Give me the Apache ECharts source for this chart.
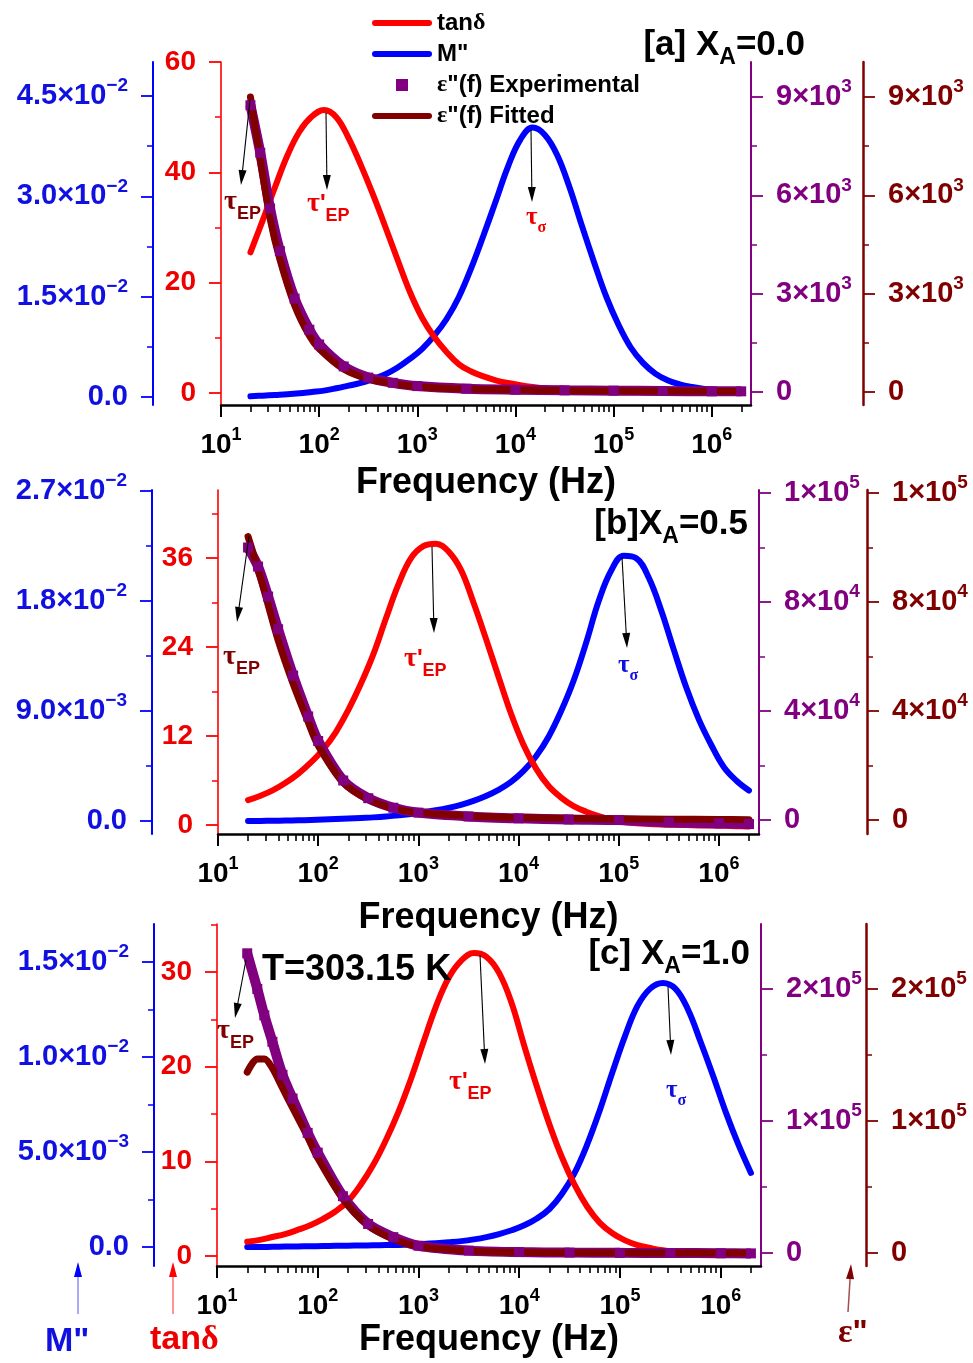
<!DOCTYPE html>
<html>
<head>
<meta charset="utf-8">
<title>tan delta, M'' and epsilon'' vs frequency</title>
<script src="https://cdn.jsdelivr.net/npm/echarts@6.0.0/dist/echarts.min.js"></script>
<style>
html,body{margin:0;padding:0;background:#ffffff;}
#chart{width:973px;height:1363px;}
</style>
</head>
<body>
<div id="chart"></div>
<script>
// ---------------- DATA (x = log10 of frequency in Hz) ----------------
// common frequency grid (log10 f) for tanδ and M'' curves: 20 Hz ... 2 MHz
const logF = [1.300, 1.425, 1.550, 1.675, 1.800, 1.925, 2.050, 2.175, 2.300, 2.425, 2.550, 2.675, 2.800, 2.925,
              3.050, 3.175, 3.300, 3.425, 3.550, 3.675, 3.800, 3.925, 4.050, 4.175, 4.300, 4.425, 4.550, 4.675,
              4.800, 4.925, 5.050, 5.175, 5.300, 5.425, 5.550, 5.675, 5.800, 5.925, 6.050, 6.175, 6.300];

// Panel [a] XA = 0.0
const tanA = [25.5, 31.3, 37.3, 43.0, 47.4, 50.1, 51.3, 50.0, 46.2, 41.3, 35.9, 30.1, 24.1, 18.3,
              13.6, 10.1, 7.4, 5.2, 3.9, 3.0, 2.3, 1.8, 1.4, 1.08, 0.83, 0.64, 0.49, 0.38,
              0.29, 0.22, 0.17, 0.13, 0.10, 0.08, 0.06, 0.05, 0.04, 0.03, 0.03, 0.02, 0.02];
const mA   = [0.0001, 0.0002, 0.0003, 0.0004, 0.00055, 0.00075, 0.00095, 0.0013, 0.0017, 0.0021, 0.0027, 0.0034, 0.0044, 0.0057,
              0.0072, 0.0092, 0.0117, 0.0150, 0.0193, 0.0242, 0.0293, 0.0345, 0.0385, 0.0403, 0.0392, 0.0362, 0.0314, 0.0257,
              0.0202, 0.0150, 0.0108, 0.0074, 0.0051, 0.0035, 0.0025, 0.0019, 0.0015, 0.0012, 0.0010, 0.0008, 0.0007];
const fA_eps  = [1.30, 1.40, 1.50, 1.60, 1.75, 1.90, 2.00, 2.25, 2.50, 2.75, 3.00, 3.50, 4.00, 4.50, 5.00, 5.50, 6.00, 6.30];
const epsExpA = [8750, 7300, 5600, 4300, 2850, 1900, 1450, 780, 440, 280, 180, 100, 70, 50, 40, 30, 20, 20];
const epsFitA = [9000, 7100, 5300, 4050, 2650, 1720, 1320, 700, 400, 260, 160, 90, 60, 45, 35, 30, 20, 20];

// Panel [b] XA = 0.5
const tanB = [3.35, 3.95, 4.7, 5.7, 6.9, 8.4, 10.2, 12.5, 15.5, 19.0, 23.0, 27.8, 32.4, 35.95,
              37.6, 37.93, 36.9, 34.4, 30.0, 25.1, 20.0, 15.0, 10.8, 7.6, 5.25, 3.7, 2.55, 1.8,
              1.2, 0.75, 0.42, 0.25, 0.15, 0.08, 0.03, -0.01, -0.05, -0.08, -0.11, -0.15, -0.2];
const mB   = [0.0, 0.00001, 0.00002, 0.00004, 0.00006, 0.00009, 0.00012, 0.00016, 0.00020, 0.00025, 0.00030, 0.00037, 0.00047, 0.00058,
              0.00072, 0.00088, 0.00108, 0.00133, 0.00165, 0.00205, 0.00255, 0.0032, 0.0041, 0.0053, 0.0069, 0.0090, 0.0115, 0.0146,
              0.0180, 0.0205, 0.0217, 0.0215, 0.0199, 0.0172, 0.0140, 0.0109, 0.0083, 0.0062, 0.0044, 0.0033, 0.0025];
const fB_eps  = [1.30, 1.40, 1.50, 1.60, 1.75, 1.90, 2.00, 2.25, 2.50, 2.75, 3.00, 3.50, 4.00, 4.50, 5.00, 5.50, 6.00, 6.30];
const epsExpB = [100000, 93000, 82000, 70000, 53000, 38000, 29000, 14500, 8000, 4500, 2700, 1300, 600, 200, 0, -800, -1200, -1500];
const epsFitB = [104000, 92000, 79000, 66000, 50000, 36000, 27300, 13700, 7500, 4300, 2700, 1500, 900, 600, 400, 300, 200, 100];

// Panel [c] XA = 1.0
const tanC = [1.5, 1.7, 2.0, 2.3, 2.75, 3.25, 3.9, 4.7, 5.8, 7.5, 9.6, 12.2, 15.2, 18.7,
              22.6, 26.4, 29.4, 31.2, 32.0, 31.6, 29.9, 26.7, 22.2, 17.9, 13.9, 10.4, 7.5, 5.2,
              3.5, 2.4, 1.65, 1.15, 0.85, 0.6, 0.45, 0.35, 0.28, 0.22, 0.18, 0.16, 0.15];
const mC   = [0.0, 0.0, 0.00001, 0.00002, 0.00003, 0.00004, 0.00005, 0.00006, 0.00007, 0.00008, 0.00009, 0.00010, 0.00011, 0.00013,
              0.00016, 0.00020, 0.00025, 0.00031, 0.00040, 0.00052, 0.00068, 0.00088, 0.00114, 0.0015, 0.0020, 0.0028, 0.0039, 0.0054,
              0.0072, 0.0092, 0.0111, 0.0127, 0.0136, 0.0139, 0.0136, 0.0125, 0.0108, 0.0090, 0.0071, 0.0054, 0.0039];
const fC_eps  = [1.30, 1.40, 1.47, 1.55, 1.65, 1.75, 1.90, 2.00, 2.25, 2.50, 2.75, 3.00, 3.50, 4.00, 4.50, 5.00, 5.50, 6.00, 6.30];
const epsExpC = [227000, 200000, 180000, 160000, 135000, 117000, 91000, 76000, 43000, 22000, 12000, 5500, 1800, 700, 300, 100, 0, -200, -300];
const epsFitC = [137000, 147000, 147000, 140000, 125000, 110000, 88000, 72000, 41000, 21000, 10500, 5000, 1500, 500, 200, 100, 0, 0, 0];

// ---------------- TICKS & TICK LABELS ----------------
const xTickExp = [1, 2, 3, 4, 5, 6];
const redTicksA = [0, 20, 40, 60];            const redLabelsA = ['0', '20', '40', '60'];        const redMinorA = [10, 30, 50];
const redTicksB = [0, 12, 24, 36];            const redLabelsB = ['0', '12', '24', '36'];        const redMinorB = [6, 18, 30, 42];
const redTicksC = [0, 10, 20, 30];            const redLabelsC = ['0', '10', '20', '30'];        const redMinorC = [5, 15, 25, 35];
const blueTicksA = [0, 0.015, 0.03, 0.045];   const blueLabelsA = ['0.0', '1.5×10^-2', '3.0×10^-2', '4.5×10^-2']; const blueMinorA = [0.0075, 0.0225, 0.0375];
const blueTicksB = [0, 0.009, 0.018, 0.027];  const blueLabelsB = ['0.0', '9.0×10^-3', '1.8×10^-2', '2.7×10^-2']; const blueMinorB = [0.0045, 0.0135, 0.0225];
const blueTicksC = [0, 0.005, 0.01, 0.015];   const blueLabelsC = ['0.0', '5.0×10^-3', '1.0×10^-2', '1.5×10^-2']; const blueMinorC = [0.0025, 0.0075, 0.0125];
const epsTicksA = [0, 3000, 6000, 9000];      const epsLabelsA = ['0', '3×10^3', '6×10^3', '9×10^3'];   const epsMinorA = [1500, 4500, 7500];
const epsTicksB = [0, 40000, 80000, 120000];  const epsLabelsB = ['0', '4×10^4', '8×10^4', '1×10^5'];   const epsMinorB = [20000, 60000, 100000];
const epsTicksC = [0, 100000, 200000];        const epsLabelsC = ['0', '1×10^5', '2×10^5'];            const epsMinorC = [50000, 150000, 250000];

// ---------------- STYLE ----------------
const SANS = '"Liberation Sans", Arial, Helvetica, sans-serif';
const SERIF = '"Liberation Serif", "DejaVu Serif", "Times New Roman", serif';
const RED = '#ff0000', BLUE = '#0000ff', PURPLE = '#800080', DKRED = '#800000';
const RED_TXT = '#ee0000', BLUE_TXT = '#1010e0';

const xMinor = [];
for (let n = 1; n <= 6; n++) for (let k = 2; k <= 9; k++) { const v = Math.log10(k) + n; if (v <= 6.40) xMinor.push(v); }

function pairs(xs, ys) { return xs.map((x, i) => [x, ys[i]]); }
function richVal(s) {
  const i = s.indexOf('^');
  if (i < 0) return '{m|' + s + '}';
  return '{m|' + s.slice(0, i) + '}{s|' + s.slice(i + 1).replace('-', '\u2212') + '}';
}
function fmt(ticks, labels) {
  return function (v) {
    for (let i = 0; i < ticks.length; i++) {
      if (Math.abs(v - ticks[i]) <= 1e-9 + 1e-6 * Math.abs(ticks[i])) return richVal(labels[i]);
    }
    return '';
  };
}
function valRich(color, size, supSize, supPad) {
  return {
    m: { fontSize: size, fontWeight: 'bold', fontFamily: SANS, color: color },
    s: { fontSize: supSize, fontWeight: 'bold', fontFamily: SANS, color: color, padding: [0, 0, supPad, 0] }
  };
}

const panels = [
  { grid: { left: 221, top: 62, width: 530, height: 343 }, nameGap: 60,
    red: { min: -2.18, max: 60, ticks: redTicksA, labels: redLabelsA, minor: redMinorA },
    blue: { min: -0.0012, max: 0.0501, ticks: blueTicksA, labels: blueLabelsA, minor: blueMinorA, offset: 68 },
    eps: { min: -397, max: 10070, ticks: epsTicksA, labels: epsLabelsA, minor: epsMinorA, offset: 112 },
    tan: pairs(logF, tanA), m: pairs(logF, mA), exp: pairs(fA_eps, epsExpA), fit: pairs(fA_eps, epsFitA) },
  { grid: { left: 218, top: 490, width: 541, height: 344 }, nameGap: 66,
    red: { min: -1.21, max: 45.17, ticks: redTicksB, labels: redLabelsB, minor: redMinorB },
    blue: { min: -0.00106, max: 0.02708, ticks: blueTicksB, labels: blueLabelsB, minor: blueMinorB, offset: 66 },
    eps: { min: -5140, max: 121100, ticks: epsTicksB, labels: epsLabelsB, minor: epsMinorB, offset: 108 },
    tan: pairs(logF, tanB), m: pairs(logF, mB), exp: pairs(fB_eps, epsExpB), fit: pairs(fB_eps, epsFitB) },
  { grid: { left: 217, top: 924, width: 544, height: 342 }, nameGap: 56,
    red: { min: -1.06, max: 35.07, ticks: redTicksC, labels: redLabelsC, minor: redMinorC },
    blue: { min: -0.0010, max: 0.0170, ticks: blueTicksC, labels: blueLabelsC, minor: blueMinorC, offset: 63 },
    eps: { min: -9850, max: 249200, ticks: epsTicksC, labels: epsLabelsC, minor: epsMinorC, offset: 105 },
    tan: pairs(logF, tanC), m: pairs(logF, mC), exp: pairs(fC_eps, epsExpC), fit: pairs(fC_eps, epsFitC) }
];

const grids = [], xAxes = [], yAxes = [], series = [];

function yPair(gi, spec, position, offset, lineColor, lineWidth, txtColor, fontSize) {
  const major = {
    gridIndex: gi, type: 'value', position: position, offset: offset, min: spec.min, max: spec.max,
    axisLine: { show: true, onZero: false, lineStyle: { color: lineColor, width: lineWidth } },
    axisTick: { show: true, inside: false, length: 12, lineStyle: { color: lineColor, width: 1.8 }, customValues: spec.ticks },
    minorTick: { show: false },
    axisLabel: { show: true, customValues: spec.ticks, margin: 25, color: txtColor, formatter: fmt(spec.ticks, spec.labels),
                 rich: valRich(txtColor, fontSize, 19, 20) },
    splitLine: { show: false }
  };
  const minor = {
    gridIndex: gi, type: 'value', position: position, offset: offset, min: spec.min, max: spec.max,
    axisLine: { show: false, onZero: false },
    axisTick: { show: true, inside: false, length: 6, lineStyle: { color: lineColor, width: 1.5 }, customValues: spec.minor },
    axisLabel: { show: false },
    splitLine: { show: false }
  };
  yAxes.push(major, minor);
}

panels.forEach((p, gi) => {
  grids.push(Object.assign({ outerBoundsMode: 'none', containLabel: false }, p.grid));
  xAxes.push({
    gridIndex: gi, type: 'value', position: 'bottom', min: 1, max: 6.40,
    axisLine: { show: true, onZero: false, lineStyle: { color: '#000', width: 2.5 } },
    axisTick: { show: true, inside: false, length: 12, lineStyle: { color: '#000', width: 2 }, customValues: xTickExp },
    axisLabel: { show: true, customValues: xTickExp, margin: 21, color: '#000',
      formatter: v => '{m|10}{s|' + Math.round(v) + '}', rich: valRich('#000', 28, 18, 20) },
    splitLine: { show: false },
    name: 'Frequency (Hz)', nameLocation: 'middle', nameGap: p.nameGap, nameMoveOverlap: false,
    nameTextStyle: { fontSize: 36, fontWeight: 'bold', color: '#000', fontFamily: SANS }
  });
  xAxes.push({
    gridIndex: gi, type: 'value', position: 'bottom', min: 1, max: 6.40,
    axisLine: { show: false, onZero: false },
    axisTick: { show: true, inside: false, length: 7, lineStyle: { color: '#000', width: 1.6 }, customValues: xMinor },
    axisLabel: { show: false }, splitLine: { show: false }
  });
  yPair(gi, p.red, 'left', 0, RED, 1.6, RED_TXT, 28);
  yPair(gi, p.blue, 'left', p.blue.offset, BLUE, 2, BLUE_TXT, 29);
  yPair(gi, p.eps, 'right', 0, PURPLE, 2, PURPLE, 29);
  yPair(gi, p.eps, 'right', p.eps.offset, DKRED, 2.5, DKRED, 29);

  const xi = 2 * gi, yb = 8 * gi;
  series.push({ name: 'M"', type: 'line', xAxisIndex: xi, yAxisIndex: yb + 2, data: p.m, smooth: 0.4,
    showSymbol: false, lineStyle: { color: BLUE, width: 6, join: 'round', cap: 'round' }, itemStyle: { color: BLUE } });
  series.push({ name: 'tanδ', type: 'line', xAxisIndex: xi, yAxisIndex: yb + 0, data: p.tan, smooth: 0.4,
    showSymbol: false, lineStyle: { color: RED, width: 6, join: 'round', cap: 'round' }, itemStyle: { color: RED } });
  series.push({ name: 'ε"(f) Experimental', type: 'line', xAxisIndex: xi, yAxisIndex: yb + 4, data: p.exp, smooth: 0.3,
    showSymbol: true, showAllSymbol: true, symbol: 'rect', symbolSize: 10,
    lineStyle: { color: PURPLE, width: 10 }, itemStyle: { color: PURPLE } });
  series.push({ name: 'ε"(f) Fitted', type: 'line', xAxisIndex: xi, yAxisIndex: yb + 6, data: p.fit, smooth: 0.3,
    showSymbol: false, lineStyle: { color: DKRED, width: 7, join: 'round', cap: 'round' }, itemStyle: { color: DKRED } });
});

// ---------------- ANNOTATIONS ----------------
const G = [];
function arrow(x1, y1, x2, y2, head, shaft, w) {
  const dx = x2 - x1, dy = y2 - y1, L = Math.hypot(dx, dy), ux = dx / L, uy = dy / L;
  const hl = 15, hw = 4;
  const bx = x2 - ux * hl, by = y2 - uy * hl, px = -uy, py = ux;
  G.push({ type: 'line', z: 100, shape: { x1: x1, y1: y1, x2: bx + ux * 2, y2: by + uy * 2 }, style: { stroke: shaft, lineWidth: w } });
  G.push({ type: 'polygon', z: 100, shape: { points: [[x2, y2], [bx + px * hw, by + py * hw], [bx - px * hw, by - py * hw]] }, style: { fill: head } });
}
function text(x, y, str, rich, align) {
  G.push({ type: 'text', z: 100, x: x, y: y, style: { text: str, rich: rich, align: align || 'left', verticalAlign: 'middle' } });
}
function tauEP(col) {
  return { t: { fontFamily: SERIF, fontSize: 28, fontWeight: 'bold', fill: col },
           q: { fontFamily: SANS, fontSize: 24, fontWeight: 'bold', fill: col },
           e: { fontFamily: SANS, fontSize: 18, fontWeight: 'bold', fill: col, padding: [24, 0, 0, 0] } };
}
function tauS(col) {
  return { t: { fontFamily: SERIF, fontSize: 25, fontWeight: 'bold', fill: col },
           e: { fontFamily: SERIF, fontSize: 16, fontWeight: 'bold', fill: col, padding: [20, 0, 0, 0] } };
}
const titleRich = { t: { fontFamily: SANS, fontSize: 35, fontWeight: 'bold', fill: '#000' },
                    a: { fontFamily: SANS, fontSize: 23, fontWeight: 'bold', fill: '#000', padding: [25, 0, 0, 0] } };

text(805, 45, '{t|[a] X}{a|A}{t|=0.0}', titleRich, 'right');
text(748, 524, '{t|[b]X}{a|A}{t|=0.5}', titleRich, 'right');
text(750, 954, '{t|[c] X}{a|A}{t|=1.0}', titleRich, 'right');
text(262, 970, '{t|T=303.15 K}', { t: { fontFamily: SANS, fontSize: 36, fontWeight: 'bold', fill: '#000' } });

text(224, 202, '{t|τ}{e|EP}', tauEP(DKRED));
text(307, 204, "{t|τ}{q|'}{e|EP}", tauEP(RED_TXT));
text(526, 218, '{t|τ}{e|σ}', tauS(RED_TXT));
text(223, 657, '{t|τ}{e|EP}', tauEP(DKRED));
text(404, 659, "{t|τ}{q|'}{e|EP}", tauEP(RED_TXT));
text(618, 666, '{t|τ}{e|σ}', tauS(BLUE_TXT));
text(217, 1031, '{t|τ}{e|EP}', tauEP(DKRED));
text(449, 1082, "{t|τ}{q|'}{e|EP}", tauEP(RED_TXT));
text(666, 1091, '{t|τ}{e|σ}', tauS(BLUE_TXT));

[[250, 100, 241, 185], [326, 113, 327, 190], [531, 130, 532, 202],
 [249, 536, 237, 622], [432, 547, 434, 633], [622, 557, 627, 648],
 [246, 960, 235, 1018], [480, 955, 485, 1064], [668, 987, 671, 1055]].forEach(a => arrow(a[0], a[1], a[2], a[3], '#000', '#000', 1.1));

arrow(78, 1314, 78, 1262, BLUE, '#8c8cff', 1.5);
arrow(173, 1314, 173, 1262, RED, '#ff7070', 1.5);
arrow(848, 1312, 851, 1264, DKRED, '#a05050', 1.5);
text(45, 1342, '{a|M"}', { a: { fontFamily: SANS, fontSize: 34, fontWeight: 'bold', fill: BLUE_TXT } });
text(150, 1340, '{a|tan}{b|δ}', { a: { fontFamily: SANS, fontSize: 34, fontWeight: 'bold', fill: RED_TXT },
                                   b: { fontFamily: SERIF, fontSize: 34, fontWeight: 'bold', fill: RED_TXT } });
text(838, 1333, '{b|ε}{a|"}', { a: { fontFamily: SANS, fontSize: 32, fontWeight: 'bold', fill: DKRED },
                                 b: { fontFamily: SERIF, fontSize: 34, fontWeight: 'bold', fill: DKRED } });

const LINE_ICON = 'path://M3,0H57A3,3,0,0,1,57,6H3A3,3,0,0,1,3,0Z';
const SQUARE_ICON = 'path://M0,0H12V12H0Z';

const option = {
  backgroundColor: '#ffffff',
  animation: false,
  legend: {
    orient: 'vertical', left: 367, top: 6, itemWidth: 60, itemHeight: 12, itemGap: 7,
    selectedMode: false, symbolKeepAspect: true,
    itemStyle: { borderWidth: 0 },
    data: [
      { name: 'tanδ', icon: LINE_ICON },
      { name: 'M"', icon: LINE_ICON },
      { name: 'ε"(f) Experimental', icon: SQUARE_ICON },
      { name: 'ε"(f) Fitted', icon: LINE_ICON }
    ],
    formatter: function (name) {
      if (name === 'tanδ') return '{s|tan}{g|δ}';
      if (name.charAt(0) === 'ε') return '{g|ε}{s|' + name.slice(1) + '}';
      return '{s|' + name + '}';
    },
    textStyle: { fontSize: 24, fontWeight: 'bold', color: '#000', fontFamily: SANS,
      rich: { s: { fontSize: 24, fontWeight: 'bold', fontFamily: SANS, color: '#000' },
              g: { fontSize: 24, fontWeight: 'bold', fontFamily: SERIF, color: '#000' } } }
  },
  grid: grids,
  xAxis: xAxes,
  yAxis: yAxes,
  series: series,
  graphic: { elements: G }
};

const chart = echarts.init(document.getElementById('chart'), null, { renderer: 'canvas' });
chart.setOption(option);
</script>
</body>
</html>
